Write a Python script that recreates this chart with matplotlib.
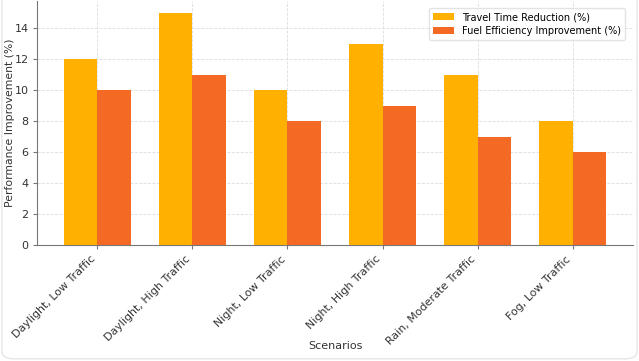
import matplotlib.pyplot as plt
import numpy as np
from matplotlib.patches import FancyBboxPatch

scenarios = ['Daylight, Low Traffic', 'Daylight, High Traffic', 'Night, Low Traffic',
             'Night, High Traffic', 'Rain, Moderate Traffic', 'Fog, Low Traffic']
travel_time = [12, 15, 10, 13, 11, 8]
fuel_eff = [10, 11, 8, 9, 7, 6]

COLOR_TRAVEL = '#FFB000'
COLOR_FUEL = '#F46A25'
TEXT = '#333333'

plt.rcParams['font.family'] = 'DejaVu Sans'
fig = plt.figure(figsize=(6.39, 3.61), dpi=100)
ax = fig.add_axes([37 / 639, 1 - 245 / 361, (633 - 37) / 639, 244 / 361])

x = np.arange(len(scenarios))
w = 0.35
ax.bar(x - w / 2, travel_time, w, color=COLOR_TRAVEL, label='Travel Time Reduction (%)', zorder=3)
ax.bar(x + w / 2, fuel_eff, w, color=COLOR_FUEL, label='Fuel Efficiency Improvement (%)', zorder=3)

ax.set_xticks(x)
ax.set_xticklabels(scenarios, rotation=45, ha='right', fontsize=7.9, color=TEXT)
ax.tick_params(axis='y', labelsize=8, labelcolor=TEXT, length=3, color='#777777', pad=3)
ax.tick_params(axis='x', length=3, color='#777777')
ax.set_xlabel('Scenarios', fontsize=8, color=TEXT)
ax.set_ylabel('Performance Improvement (%)', fontsize=7.8, color=TEXT)
ax.xaxis.set_label_coords(0.5, -(341 - 245) / 244)
ax.yaxis.set_label_coords(-(37 - 15.5) / 596, 0.5)

ax.grid(True, linestyle='--', color='#dddddd', linewidth=0.6, zorder=0)
ax.set_axisbelow(True)
for s in ['top', 'right']:
    ax.spines[s].set_visible(False)
for s in ['left', 'bottom']:
    ax.spines[s].set_color('#777777')

ax.legend(loc='upper right', fontsize=7, frameon=True, edgecolor='#dddddd',
          bbox_to_anchor=(0.995, 0.99), borderpad=0.4, labelspacing=0.4, handlelength=2.2)

border = FancyBboxPatch((0.003, 0.006), 0.994, 1.2, transform=fig.transFigure,
                        boxstyle='round,pad=0,rounding_size=0.02', fill=False,
                        edgecolor='#e6e6e6', linewidth=1.0)
fig.patches.append(border)

fig.savefig('out.png', dpi=100)
